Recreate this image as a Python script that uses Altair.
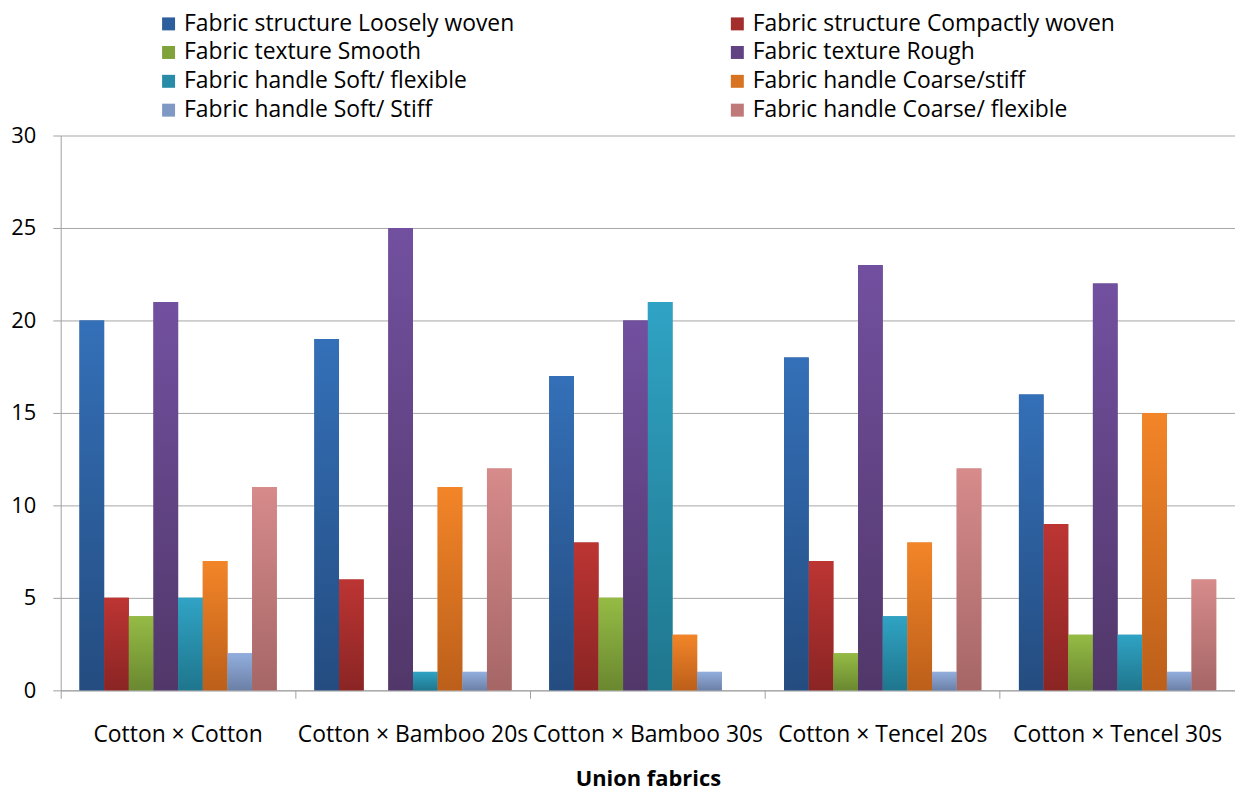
import altair as alt
import pandas as pd

categories = ["Cotton × Cotton", "Cotton × Bamboo 20s", "Cotton × Bamboo 30s",
              "Cotton × Tencel 20s", "Cotton × Tencel 30s"]
series = ["Fabric structure Loosely woven", "Fabric structure Compactly woven",
          "Fabric texture Smooth", "Fabric texture Rough",
          "Fabric handle Soft/ flexible", "Fabric handle Coarse/stiff",
          "Fabric handle Soft/ Stiff", "Fabric handle Coarse/ flexible"]

loosely = [20, 19, 17, 18, 16]
compact = [5, 6, 8, 7, 9]
smooth = [4, 0, 5, 2, 3]
rough = [21, 25, 20, 23, 22]
soft_flex = [5, 1, 21, 4, 3]
coarse_stiff = [7, 11, 3, 8, 15]
soft_stiff = [2, 1, 1, 1, 1]
coarse_flex = [11, 12, 0, 12, 6]

values = [loosely, compact, smooth, rough, soft_flex, coarse_stiff, soft_stiff, coarse_flex]

top_colors = ["#3470b8", "#bc3533", "#95bb45", "#7250a0", "#30a3c4", "#f38528", "#92aedd", "#d78b8b"]
mid_colors = ["#2c5d9c", "#a42e2c", "#80a23a", "#614283", "#288ca8", "#d87421", "#8099c4", "#c07979"]
bot_colors = ["#244c80", "#8a2524", "#6a8830", "#513769", "#1f768d", "#bc5f1a", "#6c80a6", "#a66666"]

rows = []
for s, vals in zip(series, values):
    for c, v in zip(categories, vals):
        rows.append({"category": c, "series": s, "value": v})
df = pd.DataFrame(rows)

# legend fills column by column: put even-indexed series in column 1, odd in column 2
legend_order = series[0::2] + series[1::2]
legend_colors = mid_colors[0::2] + mid_colors[1::2]

FONT = "Open Sans"
p_in = 0.16
p_out = 0.08

x_enc = alt.X("category:N", sort=categories,
              scale=alt.Scale(paddingInner=p_in, paddingOuter=p_out),
              axis=alt.Axis(title="Union fabrics", labelAngle=0, labelFontSize=23,
                            labelFont=FONT, labelColor="#000000", labelPadding=25,
                            titleFont=FONT, titleFontSize=22, titleFontWeight="bold",
                            titleColor="#000000", titlePadding=23,
                            tickSize=8, tickColor="#a0a0a0", domainColor="#a0a0a0",
                            bandPosition=-p_out / (1 - p_in), labelLimit=400))
y_enc = alt.Y("value:Q", scale=alt.Scale(domain=[0, 30], nice=False),
              axis=alt.Axis(title=None, values=[0, 5, 10, 15, 20, 25, 30],
                            labelFontSize=22, labelFont=FONT, labelColor="#000000",
                            labelPadding=17, tickSize=8, tickColor="#a0a0a0",
                            domainColor="#a0a0a0", gridColor="#a6a6a6"))
xo_enc = alt.XOffset("series:N", sort=series,
                     scale=alt.Scale(domain=series, paddingInner=0, paddingOuter=0))

base = alt.Chart(df).mark_bar().encode(
    x=x_enc, y=y_enc, xOffset=xo_enc,
    color=alt.Color("series:N",
                    scale=alt.Scale(domain=legend_order, range=legend_colors),
                    legend=alt.Legend(title=None, orient="none", legendX=97, legendY=-124,
                                      columns=2, columnPadding=212, rowPadding=5,
                                      symbolType="square", symbolSize=170,
                                      symbolStrokeWidth=0, labelFont=FONT,
                                      labelFontSize=23, labelColor="#000000",
                                      labelOffset=4, labelLimit=500))
)

layers = [base]
for s, tc, bc in zip(series, top_colors, bot_colors):
    grad = alt.Gradient(gradient="linear", x1=0, y1=0, x2=0, y2=1,
                        stops=[alt.GradientStop(color=tc, offset=0),
                               alt.GradientStop(color=bc, offset=1)])
    layers.append(
        alt.Chart(df).transform_filter(alt.datum.series == s)
        .mark_bar(color=grad).encode(x=x_enc, y=y_enc, xOffset=xo_enc)
    )

chart = alt.layer(*layers).properties(
    width=1181, height=558,
    autosize=alt.AutoSizeParams(type="none"),
    padding={"left": 53, "top": 126, "right": 0, "bottom": 100},
).configure_view(stroke=None)

chart.save("out.html", embed_options={"renderer": "svg", "actions": False})
